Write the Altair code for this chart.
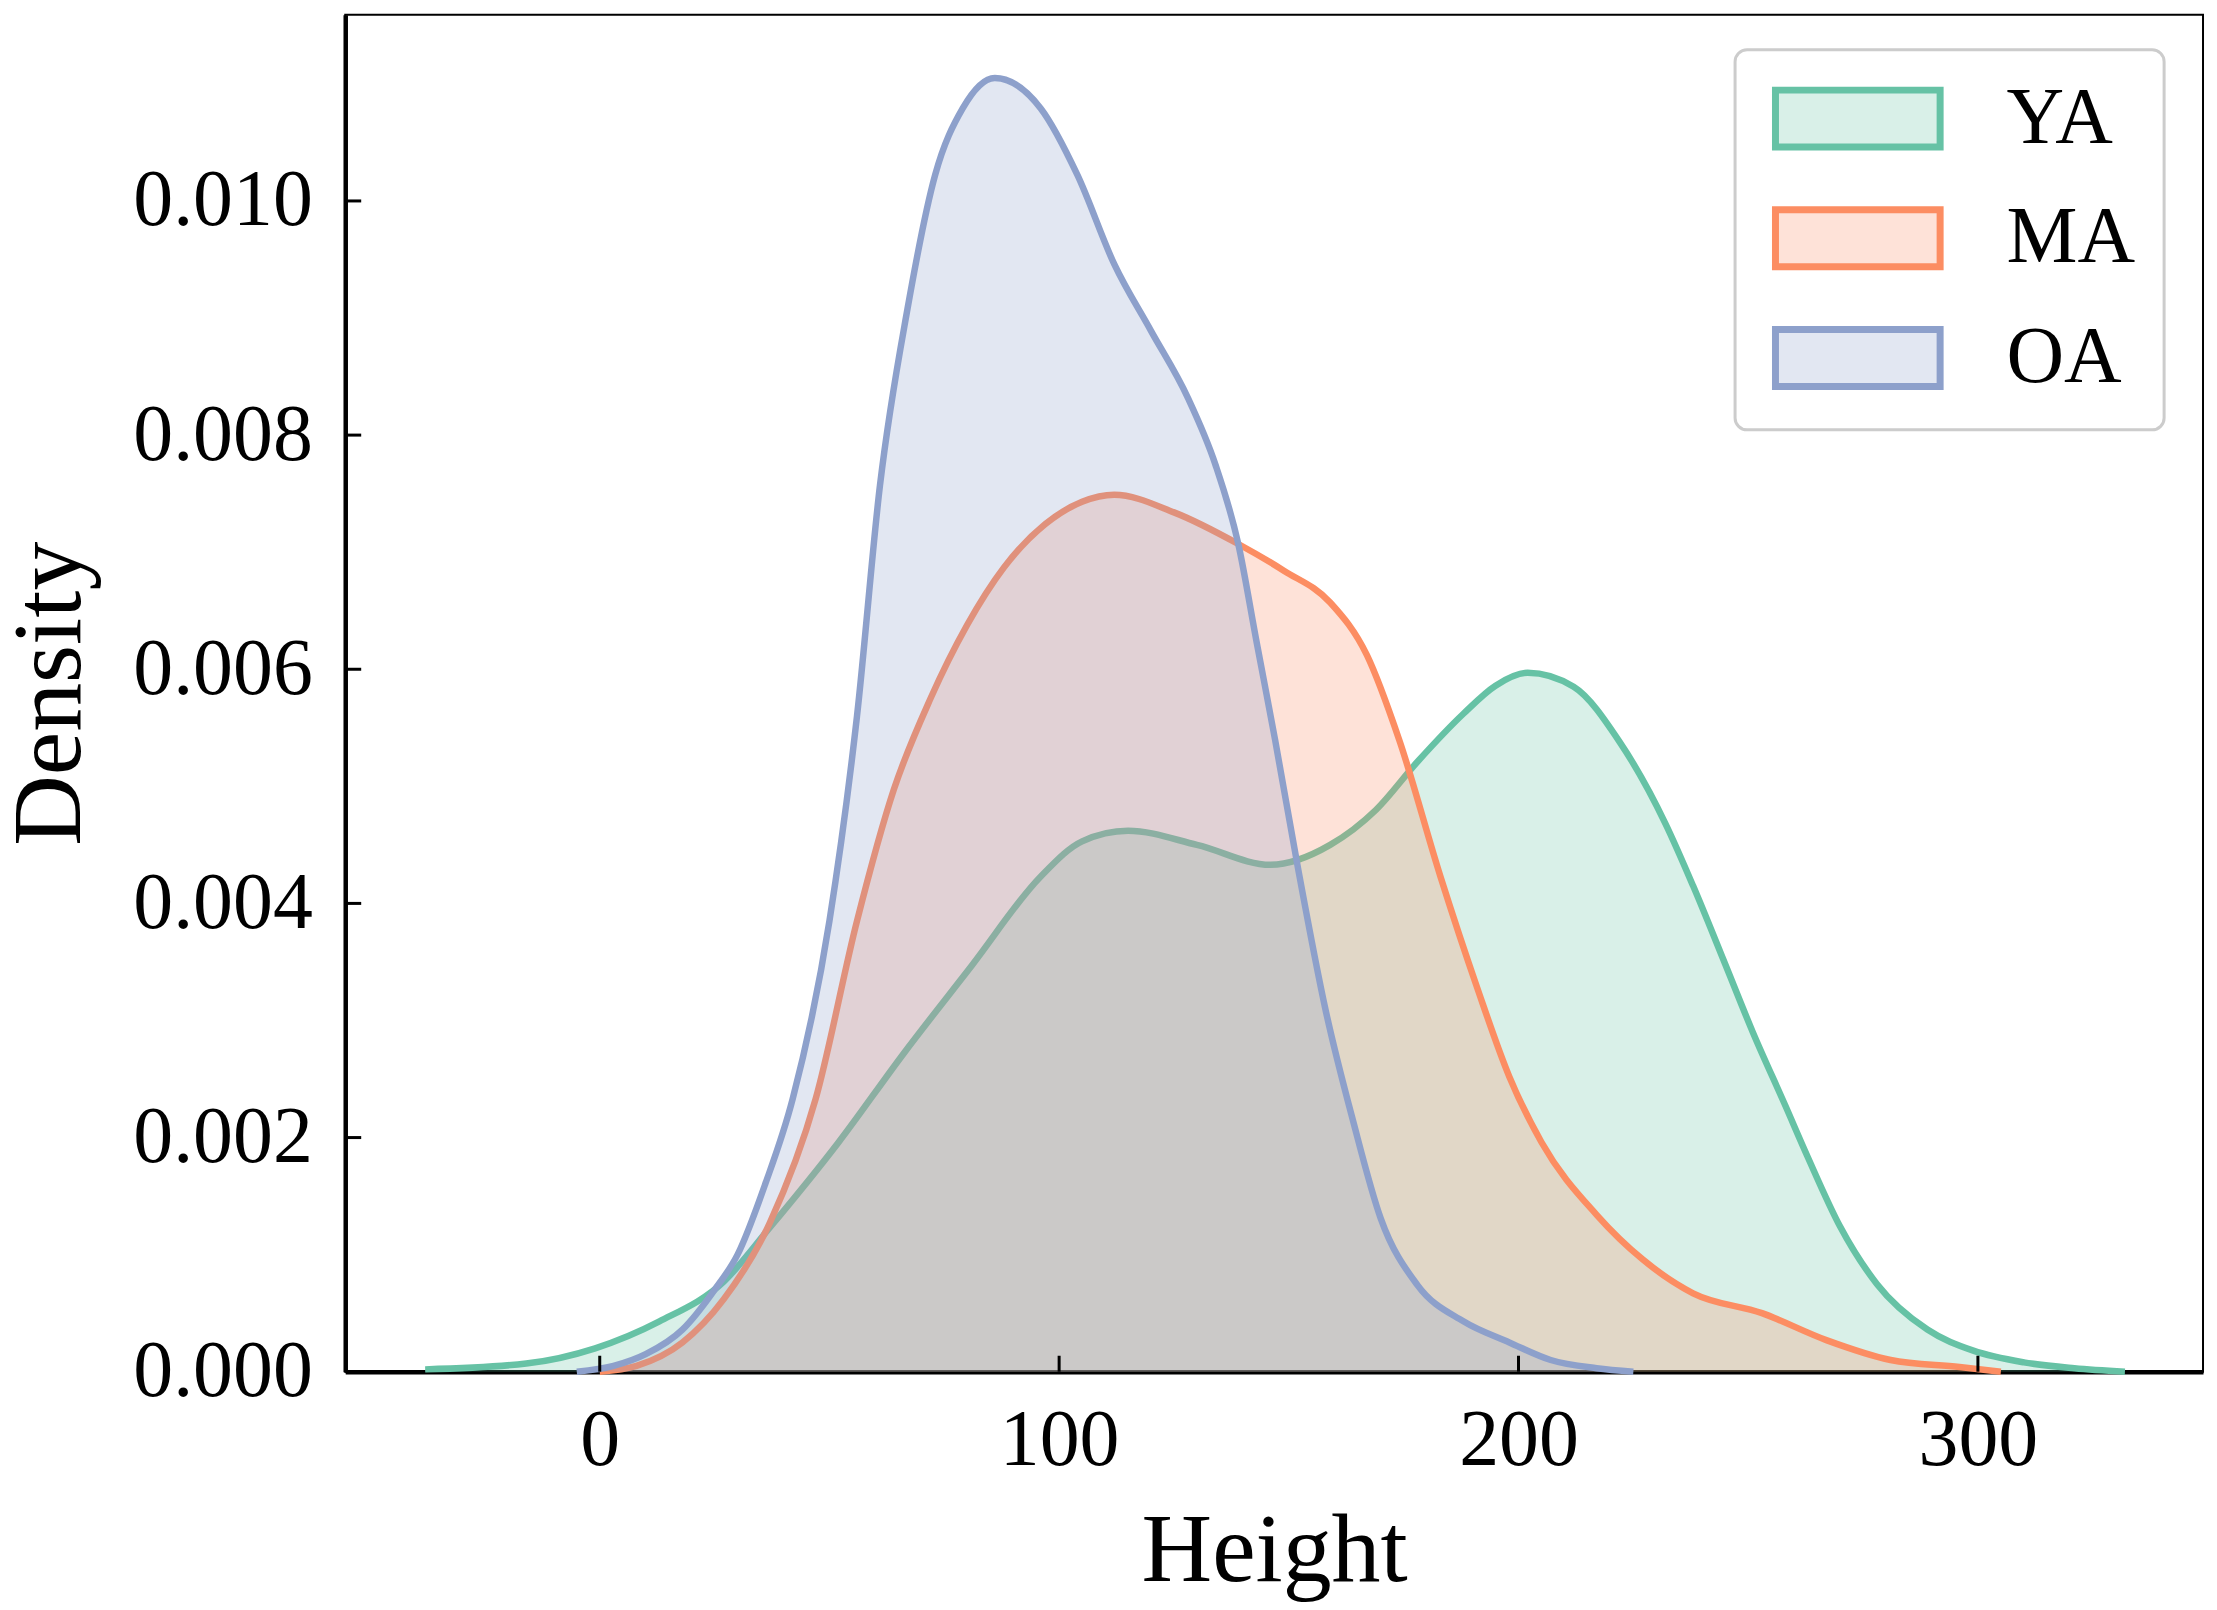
import altair as alt
import pandas as pd

groups = ["YA", "MA", "OA"]
colors = ["#66c2a5", "#fc8d62", "#8da0cb"]
fill_colors = ["rgba(102,194,165,0.25)", "rgba(252,141,98,0.25)", "rgba(141,160,203,0.25)"]

ya_x = [-38, -16, -1, 13, 27, 37, 52, 66, 81, 96, 105, 115, 130, 146, 159, 169, 178, 188, 195, 202,
        212, 222, 232, 238, 245, 251, 258, 263, 270, 278, 289, 299, 310, 321, 332]
ya_y = [0.00002, 0.00007, 0.0002, 0.00043, 0.00077, 0.00123, 0.00196, 0.00271, 0.00347, 0.00423,
        0.00453, 0.00462, 0.0045, 0.00433, 0.0045, 0.0048, 0.00521, 0.00562, 0.00586, 0.00597,
        0.00585, 0.00538, 0.00468, 0.00415, 0.00348, 0.0029, 0.00228, 0.00183, 0.00124, 0.00075,
        0.00036, 0.00018, 0.00008, 0.00003, 0.0]

ma_x = [0, 8, 18, 27, 37, 47, 56, 64, 72, 80, 88, 97, 105, 112, 125, 139, 149, 159, 167, 174,
        183, 191, 198, 205, 217, 227, 238, 253, 267, 281, 296, 305]
ma_y = [0.0, 0.00005, 0.00025, 0.00062, 0.00127, 0.00233, 0.00385, 0.00497, 0.00575, 0.00638,
        0.00687, 0.00724, 0.00743, 0.00749, 0.00734, 0.00707, 0.00684, 0.00657, 0.00612, 0.0054,
        0.00423, 0.00328, 0.00252, 0.00196, 0.00134, 0.00096, 0.00067, 0.0005, 0.00027, 0.0001,
        0.00004, 0.0]

oa_x = [-5, 3, 10, 18, 25, 30, 36, 42, 50, 56, 61, 67, 73, 79, 86, 96, 104, 112, 120, 128,
        134, 139, 143, 147, 152, 158, 164, 170, 178, 188, 198, 207, 217, 225]
oa_y = [0.0, 0.00005, 0.00015, 0.00036, 0.0007, 0.001, 0.0016, 0.00233, 0.00385, 0.0056,
        0.00757, 0.00908, 0.01022, 0.01079, 0.01105, 0.01079, 0.01022, 0.00946, 0.00889, 0.00832,
        0.00775, 0.00707, 0.00623, 0.0054, 0.0043, 0.00309, 0.00214, 0.00131, 0.00074, 0.00043,
        0.00025, 0.0001, 0.00003, 0.0]

x_ticks = [0, 100, 200, 300]
y_ticks = [0.0, 0.002, 0.004, 0.006, 0.008, 0.010]

series = {"YA": (ya_x, ya_y), "MA": (ma_x, ma_y), "OA": (oa_x, oa_y)}
rows = []
for g in groups:
    xs, ys = series[g]
    for a, b in zip(xs, ys):
        rows.append({"Height": a, "Density": b, "Group": g})
df = pd.DataFrame(rows)

W, H = 1862, 1360
FONT = "Liberation Serif"

x_scale = alt.Scale(domain=[-55.4, 349], nice=False, zero=False)
y_scale = alt.Scale(domain=[0, 0.01159], nice=False, zero=False)

x_axis = alt.Axis(title="Height", values=x_ticks, ticks=False, tickSize=0, grid=False,
                  labelFontSize=80, labelFont=FONT, labelColor="black", labelPadding=30,
                  titleFontSize=98, titleFont=FONT, titleFontWeight="normal", titleColor="black",
                  titlePadding=23, domainColor="black", domainWidth=4.5, labelFlush=False,
                  labelLimit=500)
y_axis = alt.Axis(title="Density", values=y_ticks, format=".3f", ticks=False, tickSize=0, grid=False,
                  labelFontSize=80, labelFont=FONT, labelColor="black", labelPadding=33,
                  titleFontSize=98, titleFont=FONT, titleFontWeight="normal", titleColor="black",
                  titlePadding=45, domainColor="black", domainWidth=4.5, labelFlush=False,
                  labelLimit=500)

x_enc = alt.X("Height:Q", scale=x_scale, axis=x_axis)
y_enc = alt.Y("Density:Q", scale=y_scale, axis=y_axis)

legend = alt.Legend(
    title=None, orient="none", legendX=1393, legendY=35,
    symbolType="M-2.895,-1L2.895,-1L2.895,1L-2.895,1Z", symbolSize=3249,
    symbolStrokeWidth=7, symbolOpacity=1, symbolOffset=54,
    labelFontSize=80, labelFont=FONT, labelColor="black",
    labelOffset=109, rowPadding=34, padding=29, fillColor="white", strokeColor="#cccccc",
    cornerRadius=12,
)
fill_enc = alt.Fill("Group:N", scale=alt.Scale(domain=groups, range=fill_colors), legend=legend)
stroke_enc = alt.Stroke("Group:N", scale=alt.Scale(domain=groups, range=colors), legend=legend)

base = alt.Chart(df)
layers = []
for g in groups:
    sub = base.transform_filter(alt.datum.Group == g)
    layers.append(sub.mark_area(interpolate="monotone", strokeWidth=0)
                  .encode(x=x_enc, y=y_enc, fill=fill_enc))
    layers.append(sub.mark_line(interpolate="monotone", strokeWidth=6.5)
                  .encode(x=x_enc, y=y_enc, stroke=stroke_enc))

xt = alt.Chart(pd.DataFrame({"Height": x_ticks})).mark_rule(color="black", strokeWidth=3).encode(
    x=x_enc, y=alt.value(H), y2=alt.value(H - 16))
yt = alt.Chart(pd.DataFrame({"Density": y_ticks})).mark_rule(color="black", strokeWidth=3).encode(
    y=y_enc, x=alt.value(0), x2=alt.value(16))
layers += [xt, yt]

chart = alt.layer(*layers).properties(
    width=W, height=H, background="white",
    autosize=alt.AutoSizeParams(type="none"),
    padding={"left": 338, "top": 5, "right": 6, "bottom": 229},
).configure_view(stroke="black", strokeWidth=2).configure_legend(strokeWidth=3)

chart.save("out.html", embed_options={"renderer": "svg", "actions": False})
